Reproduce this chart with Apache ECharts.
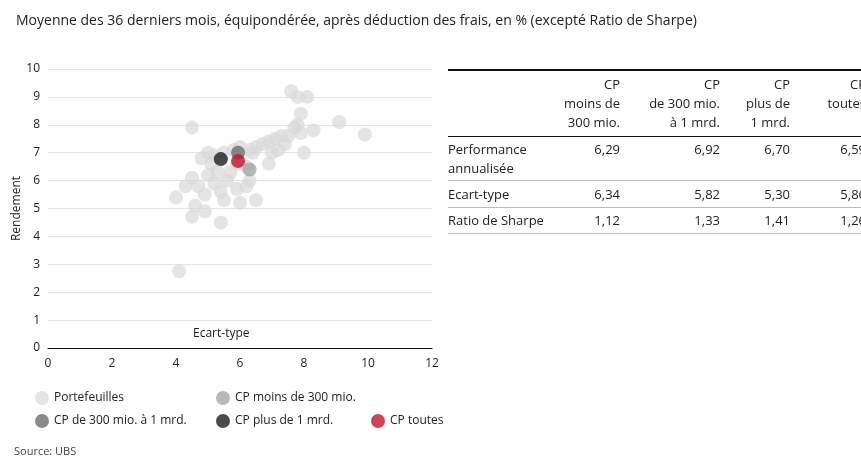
<!DOCTYPE html><html><head><meta charset="utf-8">
<script src="https://cdn.jsdelivr.net/npm/echarts@6/dist/echarts.min.js"></script>
<style>body{margin:0;font-family:"Open Sans",sans-serif;color:#222}
#c{position:absolute;left:0;top:0;width:861px;height:466px}
.t{position:absolute;font-size:13px;line-height:19px;white-space:nowrap}
.r{text-align:right}
.ln{position:absolute;left:448px;width:413px;background:#bbb;height:1px}
</style></head><body>
<div id="c"></div>
<div class="t" style="left:16px;top:10px;font-size:14px">Moyenne des 36 derniers mois, équipondérée, après déduction des frais, en % (excepté Ratio de Sharpe)</div>
<div class="t" style="left:14px;top:441px;font-size:11px;color:#444">Source: UBS</div>
<div class="ln" style="top:69px;height:2px;background:#111"></div>
<div class="ln" style="top:136px;background:#111"></div>
<div class="ln" style="top:180px"></div>
<div class="ln" style="top:207px"></div>
<div class="ln" style="top:233px"></div>
<div id="tbl"></div>
<script>
const portX=[7.6,7.8,8.1,4.5,7.9,7.8,7.9,9.1,8.3,9.9,7.7,7.5,7.3,7.1,6.9,6.7,6.5,7.4,7.2,7.0,8.0,6.9,6.3,5.8,5.5,5.0,4.8,5.2,6.0,6.4,6.2,5.6,5.0,5.3,4.7,4.3,4.0,4.9,5.4,5.9,6.2,6.5,6.0,5.5,4.6,4.9,4.5,5.4,4.1,5.7,6.3,5.2,4.5,5.9,5.1];
const portY=[9.2,9.0,9.0,7.9,8.4,8.0,7.7,8.1,7.8,7.65,7.9,7.6,7.6,7.5,7.4,7.3,7.2,7.3,7.1,7.0,7.0,6.6,7.1,7.1,7.0,7.0,6.8,6.9,7.2,7.0,6.5,6.0,6.2,6.3,5.8,5.8,5.4,5.5,5.6,5.7,5.8,5.3,5.2,5.3,5.1,4.9,4.7,4.5,2.75,6.3,6.0,5.9,6.1,6.6,6.6];
const cpSmall=[6.3,6.4];
const cpMid=[5.94,7.0];
const cpLarge=[5.4,6.77];
const cpAll=[5.94,6.7];
const colHead=[["CP","moins de","300 mio."],["CP","de 300 mio.","à 1 mrd."],["CP","plus de","1 mrd."],["CP","toutes",""]];
const perf=[6.29,6.92,6.70,6.59];
const vol=[6.34,5.82,5.30,5.86];
const sharpe=[1.12,1.33,1.41,1.26];
const colRight=[620,720,790,866];
let h='';
colHead.forEach((c,i)=>c.forEach((s,j)=>{h+=`<div class="t r" style="right:${861-colRight[i]}px;top:${75+j*19}px">${s}</div>`;}));
h+=`<div class="t" style="left:448px;top:140px">Performance<br>annualisée</div><div class="t" style="left:448px;top:185px">Ecart-type</div><div class="t" style="left:448px;top:211px">Ratio de Sharpe</div>`;
[perf,vol,sharpe].forEach((arr,r)=>arr.forEach((v,i)=>{h+=`<div class="t r" style="right:${861-colRight[i]}px;top:${[140,185,211][r]}px">${v.toFixed(2).replace('.',',')}</div>`;}));
document.getElementById('tbl').innerHTML=h;
const pts=portX.map((x,i)=>[x,portY[i]]);
const ch=echarts.init(document.getElementById('c'));
const S=(n,d,c)=>({name:n,type:'scatter',data:d,symbolSize:14,itemStyle:{color:c},z:3});
const lg=(n,l,t)=>({data:[n],left:l,top:t,icon:'circle',itemWidth:14,itemHeight:14,textStyle:{fontSize:12,color:'#222',fontFamily:'Open Sans'}});
ch.setOption({animation:false,
grid:{left:48,right:429,top:69,bottom:118},
xAxis:{min:0,max:12,interval:2,axisLine:{lineStyle:{color:'#111'}},axisTick:{show:false},splitLine:{show:false},axisLabel:{color:'#222',fontSize:12,fontFamily:'Open Sans',margin:10}},
yAxis:{min:0,max:10,interval:1,name:'Rendement',nameLocation:'middle',nameGap:17,nameTextStyle:{fontSize:12,color:'#222',fontFamily:'Open Sans'},axisLine:{show:false},axisTick:{show:false},splitLine:{lineStyle:{color:'#e4e4e4'}},axisLabel:{color:'#222',fontSize:12,fontFamily:'Open Sans'}},
graphic:[{type:'text',left:193,top:328,style:{text:'Ecart-type',fontSize:12,fill:'#222',fontFamily:'Open Sans'}}],
legend:[lg('Portefeuilles',30,386),lg('CP moins de 300 mio.',211,386),lg('CP de 300 mio. à 1 mrd.',30,409),lg('CP plus de 1 mrd.',211,409),lg('CP toutes',366,409)],
series:[Object.assign(S('Portefeuilles',pts,'rgba(215,215,215,0.85)'),{z:2}),S('CP moins de 300 mio.',[cpSmall],'#a6a6a6'),S('CP de 300 mio. à 1 mrd.',[cpMid],'#6e6e6e'),S('CP plus de 1 mrd.',[cpLarge],'#1e1e1e'),S('CP toutes',[cpAll],'#c8102e')]});
</script></body></html>
